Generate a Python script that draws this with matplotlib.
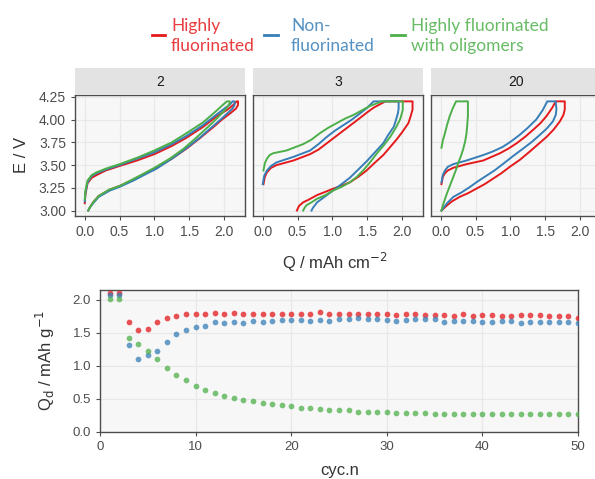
import matplotlib
matplotlib.use("Agg")
import matplotlib.pyplot as plt
from matplotlib.lines import Line2D

plt.rcParams['font.family'] = ['Liberation Sans', 'DejaVu Sans']

RED = '#E41A1C'
BLUE = '#377EB8'
GREEN = '#4DAF4A'

# facet labels (cycle numbers)
facets = ['2', '3', '20']
series_names = ['Highly\nfluorinated', 'Non-\nfluorinated', 'Highly fluorinated\nwith oligomers']

# E vs Q curves, (Q / mAh cm-2, E / V)
red_c2 = [(0.0, 3.08), (0.01, 3.18), (0.04, 3.3), (0.1, 3.36), (0.17, 3.39), (0.3, 3.44), (0.5, 3.49),
          (0.75, 3.55), (1.0, 3.62), (1.25, 3.71), (1.46, 3.8), (1.7, 3.92), (1.9, 4.04), (2.05, 4.11),
          (2.13, 4.16), (2.18, 4.2), (2.2, 4.2), (2.2, 4.16), (2.17, 4.12), (2.09, 4.07), (1.97, 4.0),
          (1.85, 3.92), (1.66, 3.8), (1.46, 3.68), (1.25, 3.57), (1.03, 3.47), (0.85, 3.4), (0.7, 3.34),
          (0.5, 3.27), (0.36, 3.23), (0.2, 3.16), (0.12, 3.09), (0.07, 3.03), (0.05, 3.0)]
blue_c2 = [(0.0, 3.1), (0.01, 3.2), (0.04, 3.31), (0.1, 3.38), (0.17, 3.41), (0.3, 3.45), (0.5, 3.5),
           (0.75, 3.57), (1.0, 3.64), (1.25, 3.73), (1.46, 3.82), (1.7, 3.94), (1.9, 4.06), (2.02, 4.13),
           (2.09, 4.17), (2.12, 4.2), (2.15, 4.2), (2.15, 4.16), (2.12, 4.12), (2.05, 4.07), (1.95, 4.0),
           (1.83, 3.92), (1.65, 3.8), (1.45, 3.68), (1.25, 3.57), (1.03, 3.46), (0.85, 3.39), (0.7, 3.33),
           (0.5, 3.26), (0.36, 3.22), (0.2, 3.15), (0.12, 3.08), (0.07, 3.03), (0.05, 3.0)]
green_c2 = [(0.0, 3.12), (0.01, 3.22), (0.04, 3.33), (0.1, 3.39), (0.17, 3.42), (0.3, 3.46), (0.5, 3.51),
            (0.75, 3.58), (1.0, 3.66), (1.25, 3.75), (1.46, 3.85), (1.7, 3.97), (1.88, 4.09), (1.98, 4.16),
            (2.04, 4.2), (2.08, 4.2), (2.08, 4.18), (2.04, 4.13), (1.97, 4.07), (1.88, 4.0), (1.77, 3.92),
            (1.6, 3.8), (1.42, 3.68), (1.22, 3.57), (1.0, 3.47), (0.83, 3.4), (0.68, 3.34), (0.5, 3.27),
            (0.35, 3.23), (0.2, 3.16), (0.12, 3.09), (0.07, 3.03), (0.05, 3.0)]

red_c3 = [(0.01, 3.29), (0.03, 3.37), (0.06, 3.42), (0.12, 3.47), (0.2, 3.5), (0.44, 3.55), (0.68, 3.62),
          (0.8, 3.67), (0.92, 3.74), (1.04, 3.81), (1.16, 3.88), (1.28, 3.95), (1.4, 4.02), (1.5, 4.08),
          (1.59, 4.13), (1.76, 4.2), (2.15, 4.2), (2.15, 4.11), (2.12, 4.03), (2.09, 3.96), (2.0, 3.86),
          (1.92, 3.78), (1.82, 3.69), (1.73, 3.61), (1.6, 3.52), (1.49, 3.44), (1.37, 3.37), (1.25, 3.31),
          (1.12, 3.27), (1.01, 3.24), (0.88, 3.2), (0.78, 3.17), (0.66, 3.12), (0.58, 3.09), (0.52, 3.05),
          (0.49, 3.0)]
blue_c3 = [(0.0, 3.29), (0.02, 3.38), (0.06, 3.44), (0.12, 3.49), (0.2, 3.53), (0.44, 3.59), (0.68, 3.66),
           (0.8, 3.73), (0.92, 3.81), (1.04, 3.88), (1.16, 3.94), (1.28, 4.0), (1.4, 4.07), (1.5, 4.13),
           (1.59, 4.2), (1.95, 4.2), (1.95, 4.12), (1.94, 4.07), (1.91, 3.99), (1.88, 3.92), (1.8, 3.83),
           (1.73, 3.74), (1.61, 3.64), (1.49, 3.54), (1.37, 3.45), (1.25, 3.36), (1.13, 3.29), (1.01, 3.22),
           (0.92, 3.17), (0.85, 3.13), (0.78, 3.09), (0.75, 3.06), (0.72, 3.03), (0.7, 3.0)]
green_c3 = [(0.01, 3.44), (0.03, 3.52), (0.06, 3.57), (0.1, 3.61), (0.15, 3.63), (0.34, 3.66), (0.58, 3.73),
            (0.7, 3.78), (0.82, 3.85), (0.94, 3.91), (1.06, 3.96), (1.18, 4.01), (1.3, 4.05), (1.42, 4.1),
            (1.54, 4.15), (1.71, 4.2), (2.01, 4.2), (2.01, 4.11), (1.99, 4.05), (1.97, 4.0), (1.91, 3.91),
            (1.83, 3.81), (1.74, 3.72), (1.64, 3.63), (1.54, 3.53), (1.44, 3.44), (1.35, 3.37), (1.25, 3.31),
            (1.13, 3.26), (1.01, 3.22), (0.9, 3.17), (0.78, 3.13), (0.7, 3.09), (0.63, 3.06), (0.6, 3.03),
            (0.58, 3.0)]

red_c20 = [(0.01, 3.29), (0.03, 3.37), (0.06, 3.41), (0.1, 3.44), (0.18, 3.47), (0.37, 3.51), (0.61, 3.55),
           (0.73, 3.59), (0.85, 3.63), (0.97, 3.68), (1.09, 3.74), (1.21, 3.81), (1.33, 3.89), (1.43, 3.96),
           (1.52, 4.04), (1.6, 4.13), (1.65, 4.2), (1.78, 4.2), (1.78, 4.11), (1.76, 4.05), (1.71, 3.98),
           (1.62, 3.89), (1.52, 3.81), (1.4, 3.73), (1.28, 3.65), (1.14, 3.56), (0.99, 3.48), (0.87, 3.41),
           (0.75, 3.35), (0.63, 3.29), (0.51, 3.24), (0.39, 3.19), (0.27, 3.15), (0.16, 3.1), (0.08, 3.05),
           (0.01, 3.0)]
blue_c20 = [(0.01, 3.31), (0.03, 3.39), (0.06, 3.44), (0.1, 3.48), (0.18, 3.51), (0.37, 3.55), (0.61, 3.61),
            (0.75, 3.65), (0.89, 3.7), (1.01, 3.76), (1.13, 3.83), (1.25, 3.91), (1.37, 4.0), (1.46, 4.1),
            (1.53, 4.2), (1.65, 4.2), (1.66, 4.11), (1.65, 4.05), (1.61, 3.98), (1.52, 3.9), (1.42, 3.83),
            (1.3, 3.75), (1.18, 3.68), (1.04, 3.6), (0.89, 3.51), (0.77, 3.44), (0.65, 3.38), (0.53, 3.32),
            (0.42, 3.26), (0.3, 3.2), (0.18, 3.15), (0.09, 3.08), (0.01, 3.0)]
green_c20 = [(0.01, 3.69), (0.03, 3.77), (0.06, 3.85), (0.09, 3.94), (0.13, 4.04), (0.17, 4.12), (0.22, 4.2),
             (0.39, 4.2), (0.39, 4.04), (0.38, 3.94), (0.37, 3.85), (0.35, 3.76), (0.32, 3.67), (0.29, 3.6),
             (0.25, 3.52), (0.22, 3.45), (0.18, 3.37), (0.13, 3.27), (0.08, 3.17), (0.04, 3.08), (0.01, 3.0)]

curves = {
    '2': [red_c2, blue_c2, green_c2],
    '3': [red_c3, blue_c3, green_c3],
    '20': [red_c20, blue_c20, green_c20],
}

# discharge capacity vs cycle number
cycles = list(range(1, 51))
qd_red = [2.11, 2.11, 1.66, 1.54, 1.56, 1.66, 1.72, 1.76, 1.78, 1.78,
          1.79, 1.80, 1.78, 1.80, 1.79, 1.79, 1.79, 1.78, 1.79, 1.78,
          1.78, 1.78, 1.81, 1.79, 1.79, 1.79, 1.78, 1.78, 1.78, 1.79,
          1.77, 1.78, 1.78, 1.77, 1.77, 1.77, 1.76, 1.78, 1.76, 1.77,
          1.77, 1.76, 1.76, 1.77, 1.77, 1.77, 1.76, 1.76, 1.76, 1.73]
qd_blue = [2.07, 2.07, 1.31, 1.11, 1.16, 1.23, 1.36, 1.49, 1.55, 1.59,
           1.61, 1.66, 1.65, 1.66, 1.65, 1.68, 1.67, 1.68, 1.70, 1.70,
           1.70, 1.68, 1.69, 1.68, 1.71, 1.71, 1.72, 1.71, 1.71, 1.70,
           1.68, 1.70, 1.71, 1.71, 1.71, 1.67, 1.68, 1.68, 1.68, 1.67,
           1.67, 1.68, 1.68, 1.65, 1.66, 1.66, 1.66, 1.66, 1.66, 1.65]
qd_green = [2.02, 2.02, 1.43, 1.33, 1.23, 1.10, 0.97, 0.87, 0.78, 0.70,
            0.64, 0.59, 0.55, 0.52, 0.49, 0.47, 0.44, 0.42, 0.41, 0.39,
            0.37, 0.36, 0.35, 0.34, 0.33, 0.33, 0.31, 0.31, 0.30, 0.30,
            0.29, 0.29, 0.29, 0.29, 0.28, 0.28, 0.28, 0.28, 0.28, 0.28,
            0.28, 0.28, 0.28, 0.28, 0.28, 0.28, 0.28, 0.28, 0.28, 0.28]

colors = [RED, BLUE, GREEN]
PANEL_BG = '#F7F7F7'
GRID = '#E8E8E8'
BORDER = '#4D4D4D'
TICKC = '#4D4D4D'


def style_axes(ax, size):
    ax.set_facecolor(PANEL_BG)
    ax.grid(True, color=GRID, linewidth=0.9)
    ax.set_axisbelow(True)
    for s in ax.spines.values():
        s.set_color(BORDER)
        s.set_linewidth(1.0)
    ax.tick_params(colors=TICKC, labelcolor=TICKC, labelsize=size, length=3, width=0.8)


fig = plt.figure(figsize=(5.95, 4.79), dpi=100)

W, H = 595, 479
panel_lefts = [75, 253, 431]
for i, f in enumerate(facets):
    ax = fig.add_axes([panel_lefts[i] / W, 1 - 216 / H, 170 / W, 121 / H])
    style_axes(ax, 10)
    for col, pts in zip(colors, curves[f]):
        q, e = zip(*pts)
        ax.plot(q, e, color=col, linewidth=1.4, solid_joinstyle='round')
    ax.set_xlim(-0.14, 2.3)
    ax.set_ylim(2.94, 4.27)
    ax.set_xticks([0.0, 0.5, 1.0, 1.5, 2.0])
    ax.set_xticklabels(['0.0', '0.5', '1.0', '1.5', '2.0'])
    ax.set_yticks([3.0, 3.25, 3.5, 3.75, 4.0, 4.25])
    if i == 0:
        ax.set_yticklabels(['3.00', '3.25', '3.50', '3.75', '4.00', '4.25'])
    else:
        ax.tick_params(axis='y', length=0, labelleft=False)
    # strip
    sax = fig.add_axes([panel_lefts[i] / W, 1 - 95 / H, 170 / W, 27 / H])
    sax.set_facecolor('#E3E3E3')
    sax.set_xticks([])
    sax.set_yticks([])
    for s in sax.spines.values():
        s.set_visible(False)
    sax.text(0.5, 0.5, f, ha='center', va='center', fontsize=10, color='#1A1A1A',
             transform=sax.transAxes)

fig.text(22 / W, 1 - 155 / H, 'E / V', rotation=90, ha='center', va='center',
         fontsize=12, color='#333333')
fig.text(335 / W, 1 - 262 / H, 'Q / mAh cm$^{-2}$', ha='center', va='center',
         fontsize=12, color='#333333')

# bottom panel
bx = fig.add_axes([100 / W, 1 - 432 / H, 478 / W, 142 / H])
style_axes(bx, 9.5)
for col, vals in zip(colors, [qd_red, qd_blue, qd_green]):
    bx.scatter(cycles, vals, s=17, color=col, alpha=0.75, linewidths=0, zorder=3)
bx.set_xlim(0, 50)
bx.set_ylim(0, 2.15)
bx.set_xticks([0, 10, 20, 30, 40, 50])
bx.set_yticks([0.0, 0.5, 1.0, 1.5, 2.0])
bx.set_yticklabels(['0.0', '0.5', '1.0', '1.5', '2.0'])
fig.text(45 / W, 1 - 360 / H, 'Q$_\\mathrm{d}$ / mAh g$^{-1}$', rotation=90, ha='center',
         va='center', fontsize=12, color='#333333')
fig.text(340 / W, 1 - 470 / H, 'cyc.n', ha='center', va='center', fontsize=12, color='#333333')

# legend
leg_font = ['Lato', 'DejaVu Sans']
dash_x = [(152, 165), (264, 278), (391, 405)]
text_x = [171, 291, 411]
for col, (x0, x1), tx, name in zip(colors, dash_x, text_x, series_names):
    fig.add_artist(Line2D([x0 / W, x1 / W], [1 - 35 / H, 1 - 35 / H], color=col, linewidth=2.0))
    fig.text(tx / W, 1 - 36 / H, name, ha='left', va='center', fontsize=12.5, color=col,
             family=leg_font, linespacing=1.35, alpha=0.85)

fig.savefig('out.png', dpi=100)
